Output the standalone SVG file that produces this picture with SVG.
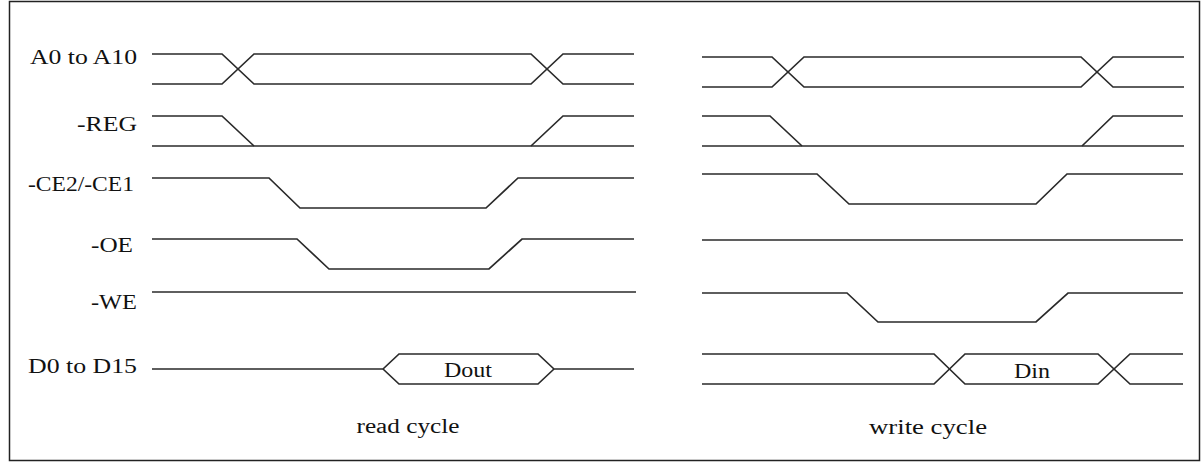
<svg xmlns="http://www.w3.org/2000/svg" width="1202" height="462" viewBox="0 0 1202 462">
<style>
.w{fill:none;stroke:#2a2a2a;stroke-width:1.7;stroke-linejoin:miter}
.lbl{font-family:"Liberation Serif","Times New Roman",serif;font-size:20px;fill:#111;text-anchor:end}
.ctr{font-family:"Liberation Serif","Times New Roman",serif;font-size:20px;fill:#111;text-anchor:middle}
</style>
<rect x="0" y="0" width="1202" height="462" fill="#fff"/>
<rect id="frame" x="9.5" y="1.5" width="1190" height="459" fill="none" stroke="#222" stroke-width="1.5"/>
<g id="labels">
<text class="lbl" x="137" y="64" textLength="107" lengthAdjust="spacingAndGlyphs">A0 to A10</text>
<text class="lbl" x="137" y="131" textLength="60" lengthAdjust="spacingAndGlyphs">-REG</text>
<text class="lbl" x="134" y="191" textLength="106" lengthAdjust="spacingAndGlyphs">-CE2/-CE1</text>
<text class="lbl" x="133" y="252" textLength="42" lengthAdjust="spacingAndGlyphs">-OE</text>
<text class="lbl" x="137" y="309" textLength="46" lengthAdjust="spacingAndGlyphs">-WE</text>
<text class="lbl" x="137" y="373" textLength="109" lengthAdjust="spacingAndGlyphs">D0 to D15</text>
</g>
<g id="connectors">
<g id="read-A">
<path class="w" d="M152,54 H222 L254,84 H531 L563,54 H634"/>
<path class="w" d="M152,84 H222 L254,54 H531 L563,84 H634"/>
</g>
<g id="read-REG">
<path class="w" d="M152,116 H222 L254,146"/>
<path class="w" d="M152,146 H634"/>
<path class="w" d="M531,146 L563,116 H634"/>
</g>
<g id="read-CE">
<path class="w" d="M152,178 H269 L300,208 H486 L518,178 H634"/>
</g>
<g id="read-OE">
<path class="w" d="M152,239 H297 L329,269 H489 L522,239 H634"/>
</g>
<g id="read-WE">
<path class="w" d="M152,292 H636"/>
</g>
<g id="read-D">
<path class="w" d="M152,369 H383 L399,354 H538 L554,369 H634"/>
<path class="w" d="M383,369 L399,384 H538 L554,369"/>
</g>
<g id="write-A">
<path class="w" d="M702,57 H772 L804,87 H1081 L1113,57 H1184"/>
<path class="w" d="M702,87 H772 L804,57 H1081 L1113,87 H1184"/>
</g>
<g id="write-REG">
<path class="w" d="M702,116 H770 L802,146"/>
<path class="w" d="M702,146 H1184"/>
<path class="w" d="M1082,146 L1113,116 H1183"/>
</g>
<g id="write-CE">
<path class="w" d="M702,174 H817 L849,204 H1036 L1067,174 H1183"/>
</g>
<g id="write-OE">
<path class="w" d="M702,240 H1183"/>
</g>
<g id="write-WE">
<path class="w" d="M702,293 H847 L878,322 H1036 L1068,293 H1183"/>
</g>
<g id="write-D">
<path class="w" d="M702,354 H934 L965,384 H1098 L1130,354 H1183"/>
<path class="w" d="M702,384 H934 L965,354 H1098 L1130,384 H1183"/>
</g>
</g>
<g id="data-labels">
<text class="ctr" x="468" y="377" textLength="48" lengthAdjust="spacingAndGlyphs">Dout</text>
<text class="ctr" x="1032" y="378" textLength="36" lengthAdjust="spacingAndGlyphs">Din</text>
<text class="ctr" x="408" y="433" textLength="103" lengthAdjust="spacingAndGlyphs">read cycle</text>
<text class="ctr" x="928" y="434" textLength="118" lengthAdjust="spacingAndGlyphs">write cycle</text>
</g>
</svg>
